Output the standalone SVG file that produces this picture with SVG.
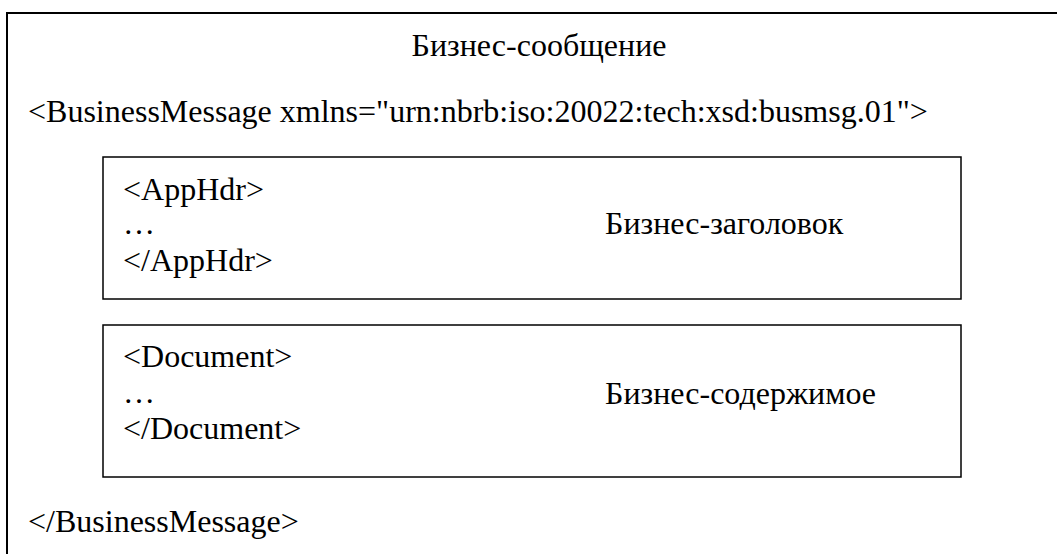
<svg xmlns="http://www.w3.org/2000/svg" width="1057" height="554" viewBox="0 0 1057 554">
<style>
text{font-family:"Liberation Serif","Times New Roman",serif;font-size:32px;fill:#000}
.box{fill:none;stroke:#000;stroke-width:1.5}
.outer{fill:none;stroke:#000;stroke-width:2}
</style>
<rect width="1057" height="554" fill="#fff"/>
<g id="business-message">
<rect class="outer" x="7" y="13" width="1060" height="560"/>
<text x="539" y="56" text-anchor="middle">Бизнес-сообщение</text>
<text x="28" y="122">&lt;BusinessMessage xmlns="urn:nbrb:iso:20022:tech:xsd:busmsg.01"&gt;</text>
<text x="28" y="532">&lt;/BusinessMessage&gt;</text>
</g>
<g id="app-hdr">
<rect class="box" x="103" y="157" width="858" height="142"/>
<text x="123" y="200">&lt;AppHdr&gt;</text>
<text x="123" y="234">…</text>
<text x="123" y="271">&lt;/AppHdr&gt;</text>
<text x="605" y="234">Бизнес-заголовок</text>
</g>
<g id="document">
<rect class="box" x="103" y="325" width="858" height="152"/>
<text x="123" y="367">&lt;Document&gt;</text>
<text x="123" y="403">…</text>
<text x="123" y="439">&lt;/Document&gt;</text>
<text x="605" y="404">Бизнес-содержимое</text>
</g>
<g id="connectors"/>
</svg>
